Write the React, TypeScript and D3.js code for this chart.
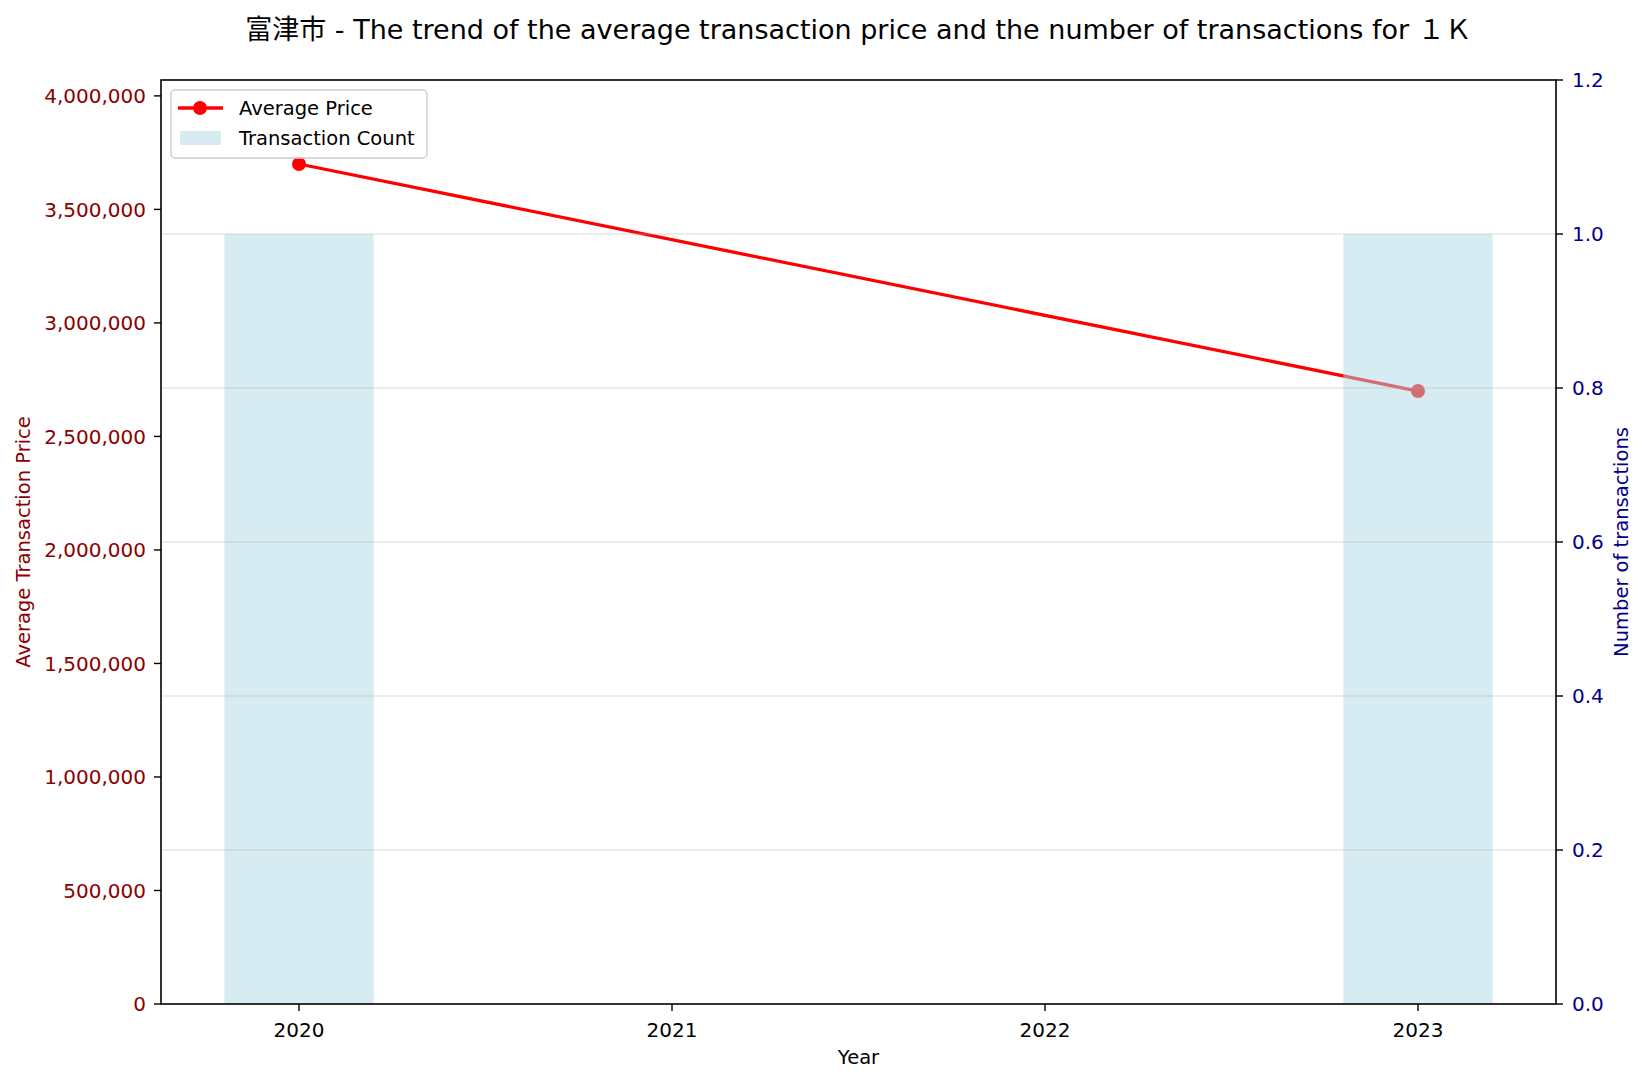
import React from "react";
import * as d3 from "d3";

const years = [2020, 2023];
const avgPrice = [3700000, 2700000];
const txCount = [1, 1];
const leftTicks = [0, 500000, 1000000, 1500000, 2000000, 2500000, 3000000, 3500000, 4000000];
const rightTicks = [0, 0.2, 0.4, 0.6, 0.8, 1.0, 1.2];
const xTicks = [2020, 2021, 2022, 2023];
const titleText = "富津市 - The trend of the average transaction price and the number of transactions for １Ｋ";

const W = 1645, H = 1082;
const M = { left: 161, right: 1556, top: 80, bottom: 1004 };
const FONT = "'DejaVu Sans', 'Noto Sans CJK JP', sans-serif";

export default function App() {
  const x = d3.scaleLinear().domain([2019.63, 2023.37]).range([M.left, M.right]);
  const yL = d3.scaleLinear().domain([0, 4070000]).range([M.bottom, M.top]);
  const yR = d3.scaleLinear().domain([0, 1.2]).range([M.bottom, M.top]);
  const fmt = d3.format(",");
  const barW = 0.4;
  const line = d3.line<number>().x((_, i) => x(years[i])).y((d) => yL(d));
  const fs = 19.5;
  const tfs = 20;

  return (
    <svg width={W} height={H} style={{ display: "block", position: "absolute", left: 0, top: 0, background: "#fff" }} fontFamily={FONT}>
      <rect width={W} height={H} fill="#fff" />
      <text x={(M.left + M.right) / 2} y={39} textAnchor="middle" fontSize={27} fill="#000">{titleText}</text>

      {/* line (primary axis) */}
      <path d={line(avgPrice) || ""} fill="none" stroke="#ff0000" strokeWidth={3.3} />
      {avgPrice.map((v, i) => (
        <circle key={i} cx={x(years[i])} cy={yL(v)} r={7} fill="#ff0000" />
      ))}

      {/* bars (secondary axis) */}
      {txCount.map((c, i) => (
        <rect key={i} x={x(years[i] - barW / 2)} y={yR(c)} width={x(years[i] + barW / 2) - x(years[i] - barW / 2)} height={yR(0) - yR(c)} fill="#add8e6" fillOpacity={0.5} />
      ))}

      {/* grid */}
      {rightTicks.filter((t) => t > 0 && t < 1.2).map((t) => (
        <line key={t} x1={M.left} x2={M.right} y1={yR(t)} y2={yR(t)} stroke="#b0b0b0" strokeOpacity={0.3} strokeWidth={1.5} />
      ))}

      {/* spines */}
      <rect x={M.left} y={M.top} width={M.right - M.left} height={M.bottom - M.top} fill="none" stroke="#000" strokeWidth={1.6} />

      {/* left axis */}
      {leftTicks.map((t) => (
        <g key={t}>
          <line x1={M.left - 7} x2={M.left} y1={yL(t)} y2={yL(t)} stroke="#000" strokeWidth={1.4} />
          <text x={M.left - 15} y={yL(t)} dy="0.36em" textAnchor="end" fontSize={tfs} fill="#8b0000">{fmt(t)}</text>
        </g>
      ))}
      {/* right axis */}
      {rightTicks.map((t) => (
        <g key={t}>
          <line x1={M.right} x2={M.right + 7} y1={yR(t)} y2={yR(t)} stroke="#000" strokeWidth={1.4} />
          <text x={M.right + 16} y={yR(t)} dy="0.36em" textAnchor="start" fontSize={tfs} fill="#00008b">{t.toFixed(1)}</text>
        </g>
      ))}
      {/* x axis */}
      {xTicks.map((t) => (
        <g key={t}>
          <line x1={x(t)} x2={x(t)} y1={M.bottom} y2={M.bottom + 7} stroke="#000" strokeWidth={1.4} />
          <text x={x(t)} y={M.bottom + 33} textAnchor="middle" fontSize={tfs} fill="#000">{t}</text>
        </g>
      ))}

      <text x={(M.left + M.right) / 2} y={1064} textAnchor="middle" fontSize={fs} fill="#000">Year</text>
      <text transform={`translate(30,${(M.top + M.bottom) / 2}) rotate(-90)`} textAnchor="middle" fontSize={fs} fill="#8b0000">Average Transaction Price</text>
      <text transform={`translate(1628,${(M.top + M.bottom) / 2}) rotate(-90)`} textAnchor="middle" fontSize={fs} fill="#00008b">Number of transactions</text>

      {/* legend */}
      <g>
        <rect x={171} y={90} width={256} height={68} rx={4} fill="#fff" fillOpacity={0.8} stroke="#cccccc" strokeWidth={1.4} />
        <line x1={178} x2={223} y1={108} y2={108} stroke="#ff0000" strokeWidth={3.3} />
        <circle cx={200} cy={108} r={7} fill="#ff0000" />
        <text x={239} y={108} dy="0.36em" fontSize={fs} fill="#000">Average Price</text>
        <rect x={180} y={131} width={41} height={14} fill="#add8e6" fillOpacity={0.5} />
        <text x={239} y={138} dy="0.36em" fontSize={fs} fill="#000">Transaction Count</text>
      </g>
    </svg>
  );
}
